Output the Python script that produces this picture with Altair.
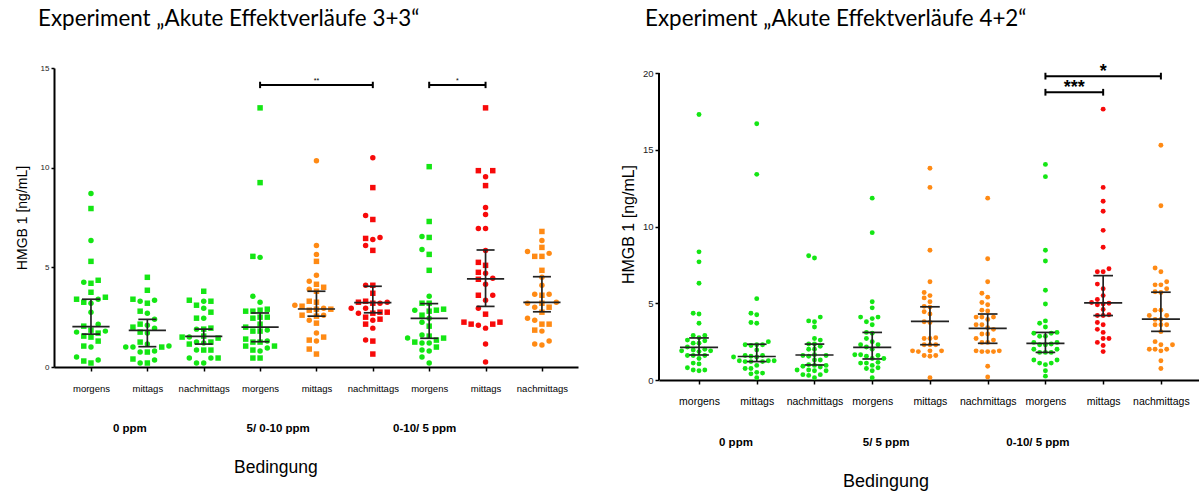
import altair as alt
import pandas as pd

TIMES = ["morgens", "mittags", "nachmittags"]
GREEN, ORANGE, RED = "#14e614", "#ff8a14", "#f70a0a"

# ---------------- Experiment 3+3 ----------------
A_TITLE = "Experiment „Akute Effektverläufe 3+3“"
A_GROUPS = ["0 ppm", "5/ 0-10 ppm", "0-10/ 5 ppm"]
A_COLORS = [GREEN, GREEN, GREEN, GREEN, ORANGE, RED, GREEN, RED, ORANGE]

A_0_MORGENS = [8.7, 7.95, 6.35, 5.3, 4.35, 4.25, 4.2, 3.75, 3.5, 3.4, 3.4, 3.25, 3.2, 2.75, 2.15,
               2.05, 1.85, 1.8, 1.75, 1.7, 1.55, 1.5, 1.3, 1.05, 1.0, 0.5, 0.35, 0.3, 0.2]
A_0_MITTAGS = [4.5, 3.85, 3.4, 3.35, 3.3, 3.2, 2.8, 2.7, 2.4, 2.15, 2.1, 2.0, 1.95, 1.75, 1.7,
               1.25, 1.15, 1.05, 1.0, 1.0, 1.0, 0.8, 0.75, 0.75, 0.4, 0.35, 0.2, 0.2]
A_0_NACHM = [3.8, 3.35, 3.3, 3.3, 3.1, 2.95, 2.75, 2.45, 2.45, 1.95, 1.9, 1.9, 1.55, 1.5, 1.5,
             1.45, 1.25, 1.25, 1.2, 1.15, 0.85, 0.85, 0.85, 0.45, 0.45, 0.45, 0.2, 0.2]
A_5_MORGENS = [13.0, 9.25, 5.55, 5.5, 3.55, 3.25, 2.9, 2.85, 2.8, 2.8, 2.5, 2.5, 2.45, 2.15, 2.0,
               1.85, 1.8, 1.8, 1.4, 1.3, 1.25, 1.25, 1.05, 1.05, 0.95, 0.85, 0.8, 0.45, 0.45]
A_5_MITTAGS = [10.35, 6.1, 5.65, 5.3, 4.6, 4.3, 4.15, 4.0, 3.9, 3.8, 3.3, 3.25, 3.1, 3.05, 2.95,
               2.9, 2.9, 2.85, 2.6, 2.6, 2.55, 2.35, 2.2, 1.7, 1.5, 1.35, 1.3, 0.9, 0.65]
A_5_NACHM = [10.5, 9.0, 7.6, 7.4, 6.5, 6.45, 6.4, 6.1, 5.85, 4.1, 4.1, 3.7, 3.3, 3.25, 3.25, 3.2,
             3.2, 2.95, 2.95, 2.75, 2.75, 2.7, 2.7, 2.5, 2.4, 2.35, 2.15, 1.95, 1.35, 1.3, 0.65]
A_10_MORGENS = [10.05, 7.3, 6.55, 6.5, 5.9, 5.65, 4.85, 3.55, 3.2, 3.2, 2.9, 2.85, 2.85, 2.8, 2.6,
                2.45, 2.25, 2.05, 1.6, 1.55, 1.45, 1.45, 1.35, 1.25, 1.2, 1.2, 1.0, 0.85, 0.8, 0.5, 0.2]
A_10_MITTAGS = [13.0, 9.85, 9.85, 9.55, 9.1, 8.0, 7.65, 6.95, 6.95, 5.85, 5.25, 5.1, 4.75, 4.7, 4.45,
                4.4, 4.15, 3.6, 3.6, 3.35, 2.95, 2.65, 2.25, 2.25, 2.15, 2.15, 2.1, 1.95, 1.15, 0.25]
A_10_NACHM = [6.8, 6.35, 6.0, 5.8, 5.7, 5.55, 5.55, 4.85, 4.5, 4.1, 3.65, 3.65, 3.6, 3.25, 3.2,
              3.2, 3.0, 3.0, 2.75, 2.45, 2.35, 2.15, 2.15, 1.85, 1.8, 1.3, 1.15, 1.1]
A_SERIES = [A_0_MORGENS, A_0_MITTAGS, A_0_NACHM, A_5_MORGENS, A_5_MITTAGS, A_5_NACHM,
            A_10_MORGENS, A_10_MITTAGS, A_10_NACHM]
# marker per subject cohort: s = square, c = circle
A_SHAPES = ["cscsscssscsscccssccssssscccss", "sssccssccscscscscccsccscscsc",
            "sscsscscssscscsscscsscsccsc", "ssscccssssssssscssscsssscscss",
            "cccsccsscssscscssscsscscsscss", "cscscsccsscssscscccssscsscsccss",
            "sscscsscsssscssccscsscssccscccc", "ssscscccccsssccscscccssssscccccs",
            "scsccsssccccscsccssccssscccccc"]
A_MEDIAN = [2.03, 1.84, 1.54, 2.0, 2.91, 3.23, 2.44, 4.42, 3.24]
A_Q1 = [1.65, 1.02, 1.15, 1.27, 2.55, 2.72, 1.44, 3.04, 2.77]
A_Q3 = [3.4, 2.39, 1.9, 2.71, 3.8, 4.05, 3.18, 5.87, 4.53]
A_SIG = [(3, 5, 14.15, "**"), (6, 7, 14.15, "*")]

# ---------------- Experiment 4+2 ----------------
B_TITLE = "Experiment „Akute Effektverläufe 4+2“"
B_GROUPS = ["0 ppm", "5/ 5 ppm", "0-10/ 5 ppm"]
B_COLORS = [GREEN, GREEN, GREEN, GREEN, ORANGE, ORANGE, GREEN, RED, ORANGE]

B_0_MORGENS = [17.3, 8.35, 7.7, 6.3, 4.35, 4.3, 3.7, 2.9, 2.9, 2.75, 2.6, 2.55, 2.4, 2.4, 2.15,
               2.0, 1.95, 1.9, 1.9, 1.85, 1.6, 1.6, 1.6, 1.4, 1.1, 1.05, 0.8, 0.65, 0.65, 0.6]
B_0_MITTAGS = [16.7, 13.4, 5.3, 4.35, 4.25, 3.75, 3.7, 2.5, 2.3, 2.3, 2.3, 2.25, 1.95, 1.6, 1.6,
               1.55, 1.5, 1.5, 1.25, 1.25, 1.25, 1.2, 1.2, 1.2, 0.95, 0.75, 0.75, 0.5, 0.45, 0.4, 0.15]
B_0_NACHM = [8.1, 7.95, 4.1, 3.85, 3.8, 3.45, 2.7, 2.6, 2.35, 2.35, 2.2, 2.0, 2.0, 1.65, 1.6, 1.6,
             1.55, 1.3, 1.3, 1.0, 0.95, 0.95, 0.9, 0.85, 0.65, 0.65, 0.6, 0.6, 0.35, 0.35, 0.3, 0.15]
B_5_MORGENS = [11.85, 9.6, 5.1, 4.7, 4.1, 4.1, 4.0, 3.8, 3.6, 3.1, 3.05, 2.7, 2.5, 2.3, 2.3, 2.15,
               2.0, 1.65, 1.65, 1.6, 1.55, 1.4, 1.4, 1.15, 1.1, 1.1, 0.95, 0.8, 0.75, 0.6, 0.15]
B_5_MITTAGS = [13.8, 12.55, 8.45, 6.4, 5.7, 5.5, 5.35, 5.1, 4.8, 4.75, 4.45, 4.3, 3.8, 3.75, 2.75,
               2.7, 2.7, 2.3, 2.3, 2.3, 1.9, 1.9, 1.9, 1.85, 1.6, 1.6, 1.55, 0.15]
B_5_NACHM = [11.85, 7.9, 6.4, 5.65, 5.4, 5.05, 4.9, 4.55, 4.5, 4.1, 4.1, 4.1, 3.95, 3.6, 3.6, 3.4,
             3.3, 3.0, 3.0, 2.7, 2.6, 2.45, 2.45, 1.9, 1.9, 1.85, 1.85, 1.85, 0.9, 0.2]
B_10_MORGENS = [14.05, 13.25, 8.45, 7.75, 5.85, 4.95, 3.85, 3.7, 3.45, 3.1, 3.05, 3.05, 2.85, 2.85,
                2.45, 2.45, 2.35, 2.3, 2.3, 2.0, 2.0, 1.8, 1.8, 1.8, 1.3, 1.3, 1.1, 1.1, 1.0, 0.6, 0.25]
B_10_MITTAGS = [17.65, 12.55, 11.65, 11.0, 9.75, 8.65, 7.25, 7.05, 7.05, 6.25, 5.95, 5.5, 5.25, 5.05,
                5.0, 4.95, 4.9, 4.6, 4.25, 4.2, 4.2, 3.75, 3.6, 3.3, 3.1, 2.7, 2.7, 2.45, 2.25, 1.85]
B_10_NACHM = [15.3, 11.35, 7.3, 7.05, 6.4, 6.2, 6.2, 5.95, 5.75, 5.7, 4.55, 4.55, 4.2, 4.2, 3.95,
              3.95, 3.6, 3.6, 3.6, 3.15, 2.5, 2.3, 2.3, 2.0, 2.0, 2.0, 1.9, 1.25, 0.75]
B_SERIES = [B_0_MORGENS, B_0_MITTAGS, B_0_NACHM, B_5_MORGENS, B_5_MITTAGS, B_5_NACHM,
            B_10_MORGENS, B_10_MITTAGS, B_10_NACHM]
B_MEDIAN = [2.13, 1.53, 1.63, 2.13, 3.82, 3.36, 2.39, 5.02, 3.97]
B_Q1 = [1.63, 1.2, 0.98, 1.37, 2.3, 2.39, 1.8, 4.2, 3.17]
B_Q3 = [2.74, 2.33, 2.34, 3.1, 4.77, 4.3, 3.1, 6.8, 5.72]
B_SIG = [(6, 8, 19.8, "*"), (6, 7, 18.75, "***")]

AXIS_FONT = "Liberation Sans"
TITLE_FONT = "Lato"


def swarm_offsets(values, unit_px, col_px, row_px, step_px):
    """Greedy beeswarm: columns on a fixed grid, no two points closer than row_px in a column."""
    order = sorted(range(len(values)), key=lambda i: values[i])
    cols = [0]
    for k in range(1, 10):
        cols += [-k, k]
    placed, out = [], [0.0] * len(values)
    for i in order:
        y = values[i] * unit_px
        for c in cols:
            if all(pc != c or abs(py - y) >= row_px for py, pc in placed):
                break
        placed.append((y, c))
        out[i] = c * col_px / step_px
    return out


def panel(series, shapes, colors, med, q1, q3, sig, groups, group_x, bed_x, title, g):
    W, H = g["W"], g["H"]
    xdom, ydom = g["xdom"], g["ydom"]
    unit_px = H / (ydom[1] - ydom[0])
    step_px = W / (xdom[1] - xdom[0])

    rows = []
    for idx, vals in enumerate(series):
        offs = swarm_offsets(vals, unit_px, g["col_px"], g["row_px"], step_px)
        for j, v in enumerate(vals):
            shp = "c"
            if shapes is not None and j < len(shapes[idx]):
                shp = shapes[idx][j]
            rows.append({"x": idx + offs[j], "v": v, "col": colors[idx], "shape": shp})
    pts = pd.DataFrame(rows)

    # median line, IQR whisker and caps as line segments
    mh, ch = g["med_half"], g["cap_half"]
    segs = []
    for idx in range(len(series)):
        segs.append({"x": idx, "x2": idx, "v": q1[idx], "v2": q3[idx]})
        segs.append({"x": idx - mh, "x2": idx + mh, "v": med[idx], "v2": med[idx]})
        for q in (q1[idx], q3[idx]):
            segs.append({"x": idx - ch, "x2": idx + ch, "v": q, "v2": q})
    segs = pd.DataFrame(segs)

    tk = g["sig_tick"]
    br, brt = [], []
    for a, b, lvl, lab in sig:
        br.append({"x": a, "x2": b, "v": lvl, "v2": lvl})
        br.append({"x": a, "x2": a, "v": lvl - tk, "v2": lvl + tk})
        br.append({"x": b, "x2": b, "v": lvl - tk, "v2": lvl + tk})
        brt.append({"x": (a + b) / 2, "v": lvl, "t": lab})
    br, brt = pd.DataFrame(br), pd.DataFrame(brt)

    xscale = alt.Scale(domain=xdom, nice=False, zero=False)
    yscale = alt.Scale(domain=ydom, nice=False, zero=False)
    xaxis = alt.Axis(values=list(range(9)),
                     labelExpr="['morgens','mittags','nachmittags'][datum.value % 3]",
                     title=None, grid=False, domainColor="black", domainWidth=2,
                     tickColor="black", tickWidth=1.5, tickSize=4, labelFont=AXIS_FONT,
                     labelFontSize=g["xlab_size"], labelColor="black", labelPadding=g["xlab_pad"],
                     labelOverlap=False, labelFlush=False)
    yaxis = alt.Axis(values=g["yticks"], title="HMGB 1 [ng/mL]", grid=False,
                     domain=g["ydomain_line"], domainColor="black", domainWidth=2,
                     tickColor="black", tickWidth=1.5, tickSize=g["ytick"], labelFont=AXIS_FONT,
                     labelFontSize=g["ylab_size"], labelColor="#222222", labelPadding=2,
                     titleFont=AXIS_FONT, titleFontSize=g["ytitle_size"], titleFontWeight="normal",
                     titleColor="black", titlePadding=g["ytitle_pad"], labelFlush=False)
    X = alt.X("x:Q", scale=xscale, axis=xaxis)
    Y = alt.Y("v:Q", scale=yscale, axis=yaxis)

    if shapes is not None:
        points = alt.Chart(pts).mark_point(filled=True, opacity=1, size=g["pt_size"], strokeWidth=0).encode(
            x=X, y=Y,
            color=alt.Color("col:N", scale=None),
            shape=alt.Shape("shape:N", scale=alt.Scale(domain=["c", "s"], range=["circle", "square"]),
                            legend=None))
    else:
        points = alt.Chart(pts).mark_circle(opacity=1, size=g["pt_size"]).encode(
            x=X, y=Y, color=alt.Color("col:N", scale=None))

    stats = alt.Chart(segs).mark_rule(color="#222222", strokeWidth=1.7).encode(
        x=X, x2="x2:Q", y=Y, y2="v2:Q")
    brackets = alt.Chart(br).mark_rule(color="black", strokeWidth=2).encode(
        x=X, x2="x2:Q", y=Y, y2="v2:Q")
    brlabels = alt.Chart(brt).mark_text(font=AXIS_FONT, fontSize=g["sig_size"], fontWeight=g["sig_weight"],
                                        baseline="alphabetic", dy=g["sig_dy"], color="black").encode(
        x=X, y=Y, text="t:N")

    gl = pd.DataFrame({"x": group_x, "t": groups})
    glabels = alt.Chart(gl).mark_text(font=AXIS_FONT, fontSize=11.5, fontWeight="bold",
                                      baseline="middle", color="black").encode(
        x=X, y=alt.value(H + g["group_dy"]), text="t:N")
    bed = alt.Chart(pd.DataFrame({"x": [bed_x], "t": ["Bedingung"]})).mark_text(
        font=AXIS_FONT, fontSize=g["bed_size"], baseline="middle", color="black").encode(
        x=X, y=alt.value(H + g["bed_dy"]), text="t:N")
    head = alt.Chart(pd.DataFrame({"t": [title]})).mark_text(
        font=TITLE_FONT, fontSize=22.4, align="left", baseline="alphabetic", color="black").encode(
        x=alt.value(g["title_dx"]), y=alt.value(-42), text="t:N")

    layers = [points, stats, brackets, brlabels, glabels, bed, head]
    if not g["ydomain_line"]:
        yline = alt.Chart(pd.DataFrame({"v": [0.0], "v2": [g["yticks"][-1]]})).mark_rule(
            color="black", strokeWidth=2).encode(x=alt.value(0), y=Y, y2="v2:Q")
        layers.insert(0, yline)
    return alt.layer(*layers).properties(width=W, height=H)


left = panel(A_SERIES, A_SHAPES, A_COLORS, A_MEDIAN, A_Q1, A_Q3, A_SIG, A_GROUPS,
             [0.69, 3.32, 5.92], 3.28, A_TITLE,
             dict(W=524, H=299, xdom=[-0.656, 8.64], ydom=[0, 15], yticks=[0, 5, 10, 15],
                  ydomain_line=True, col_px=7.2, row_px=6.2, pt_size=30, med_half=0.33,
                  cap_half=0.16, sig_tick=0.16, sig_size=7, sig_weight="normal", sig_dy=-2,
                  xlab_size=9.5, xlab_pad=12, ylab_size=8, ytick=3, ytitle_size=14,
                  ytitle_pad=11, group_dy=62, bed_dy=101, bed_size=17.5, title_dx=-16))

right = panel(B_SERIES, None, B_COLORS, B_MEDIAN, B_Q1, B_Q3, B_SIG, B_GROUPS,
              [0.64, 3.24, 5.87], 3.24, B_TITLE,
              dict(W=540, H=312, xdom=[-0.693, 8.66], ydom=[0, 20.33], yticks=[0, 5, 10, 15, 20],
                   ydomain_line=False, col_px=5.8, row_px=5.3, pt_size=24, med_half=0.33,
                   cap_half=0.17, sig_tick=0.22, sig_size=18, sig_weight="bold", sig_dy=1,
                   xlab_size=10.5, xlab_pad=12, ylab_size=9.5, ytick=4, ytitle_size=16,
                   ytitle_pad=6, group_dy=63, bed_dy=102, bed_size=18, title_dx=-14))

chart = alt.hconcat(left, right, spacing=42).configure_view(stroke=None).properties(
    padding={"left": 15, "top": 8, "right": 0, "bottom": 0}, background="white")

chart.save("out.html", embed_options={"renderer": "svg", "actions": False})
